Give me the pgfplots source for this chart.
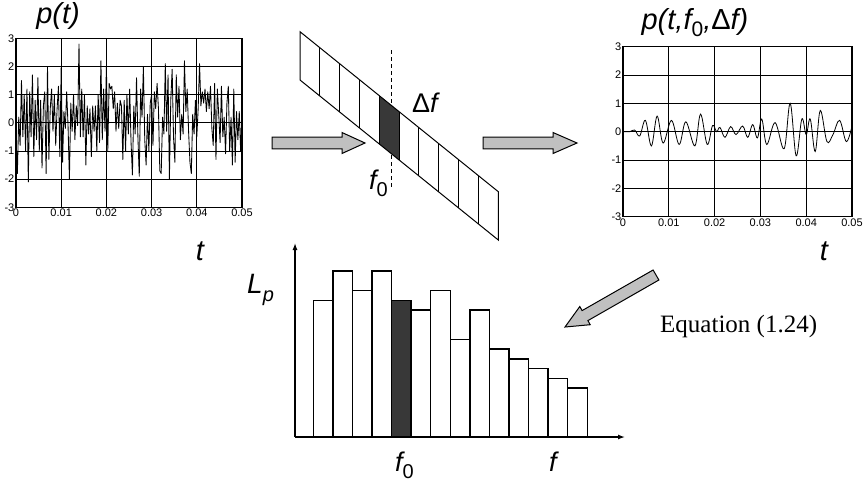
\documentclass[border=0pt]{standalone}
\usepackage{pgfplots}
\pgfplotsset{compat=1.18}
\usepackage{pgfplotstable}
\usepackage{fontspec}
\setmainfont{Liberation Sans}
\newfontfamily\timesfont{Liberation Serif}
\usetikzlibrary{arrows.meta}
\definecolor{arrowgray}{HTML}{C0C0C0}
\definecolor{darkcell}{HTML}{383838}

% broadband pressure signal p(t), 166 samples over 0..0.05 s
\pgfplotstableread{
v
-0.5
-1.8
0.2
-0.8
1.5
-0.5
1.0
-1.0
1.2
-2.1
1.1
-0.5
1.7
-1.2
0.8
-0.6
1.6
-1.0
0.8
-1.6
0.6
1.1
-1.8
2.0
-1.3
0.5
1.2
-0.3
1.0
-0.8
0.5
1.3
-1.2
2.0
-1.4
0.4
-0.2
1.1
-0.1
-2.0
0.7
-0.3
1.0
-0.6
0.6
-0.1
2.8
-0.5
1.2
-0.5
1.0
-1.5
0.6
-0.4
0.5
-1.2
0.6
-0.3
0.6
-1.0
1.0
-0.7
2.2
-0.6
1.2
-0.3
2.0
-1.0
1.4
1.2
1.3
0.5
1.1
-0.3
0.7
-0.2
0.8
0.6
-1.3
0.8
-1.0
1.0
-0.4
1.2
-0.7
-1.85
0.6
-0.4
1.6
-0.5
-1.9
1.2
0.2
2.0
-0.6
-1.5
0.3
-1.0
0.7
1.0
-0.8
1.1
0.5
1.4
0.5
-1.7
-1.8
0.2
-0.4
2.1
-0.3
1.7
-2.0
0.8
1.9
-0.5
-1.4
1.7
0.2
1.3
-0.6
0.3
-0.4
2.2
0.4
1.2
-0.3
-1.4
-1.8
0.3
-0.4
0.8
-0.5
0.5
2.1
0.6
1.1
0.7
1.2
0.4
1.1
0.5
1.3
-0.2
-0.8
1.4
-1.3
1.2
0.3
-0.7
1.3
-0.5
0.2
-1.1
0.7
1.3
-1.0
0.2
-1.5
1.2
-1.4
0.4
-0.6
0.4
-1.0
0.4
}\noisedata

% band-filtered signal p(t,f0,Df): extrema
\pgfplotstableread{
t v
0 0
0.00146 0.0
0.00255 0.06
0.00365 -0.15
0.00489 0.40
0.00620 -0.50
0.00745 0.55
0.00876 -0.40
0.01058 0.40
0.01226 -0.45
0.01372 0.35
0.01569 -0.50
0.01693 0.62
0.01839 -0.45
0.01956 0.22
0.02044 0.0
0.02117 0.15
0.02226 -0.20
0.02350 0.18
0.02467 -0.10
0.02613 0.20
0.02723 -0.20
0.02832 0.25
0.02934 -0.22
0.03029 0.45
0.03139 -0.45
0.03321 0.32
0.03518 -0.60
0.03650 1.00
0.03781 -0.85
0.03905 0.45
0.04000 -0.10
0.04088 0.45
0.04197 -0.70
0.04307 0.75
0.04453 -0.35
0.04584 -0.10
0.04730 0.40
0.04876 -0.35
0.05 0.20
}\banddata

% sound pressure levels of the frequency bands
\pgfplotstableread{
x y
1 14
2 17
3 15
4 17
6 13
7 15
8 10
9 13
10 9
11 8
12 7
13 6
14 5
}\levels
\pgfplotstableread{
x y
5 14
}\levelsel

\newcommand{\tickfont}{\fontsize{11}{12}\selectfont}

\pgfplotsset{
  sigplot/.style={
    scale only axis, anchor=south west,
    xmin=0, xmax=0.05, ymin=-3, ymax=3,
    scaled x ticks=false, scaled y ticks=false,
    xtick={0,0.01,0.02,0.03,0.04,0.05},
    xticklabels={{\tickfont 0},{\tickfont 0.01},{\tickfont 0.02},{\tickfont 0.03},{\tickfont 0.04},{\tickfont 0.05}},
    ytick={-3,-2,-1,0,1,2,3},
    yticklabels={{\tickfont -3},{\tickfont -2},{\tickfont -1},{\tickfont 0},{\tickfont 1},{\tickfont 2},{\tickfont 3}},
    grid=major,
    major grid style={black, line width=0.7pt},
    axis line style={line width=1.4pt},
    major tick length=0pt,
    tick label style={inner sep=1.5pt},
  }
}

\begin{document}
\begin{tikzpicture}
\path[use as bounding box] (0,0) rectangle (864pt,-485pt);

% left signal
\begin{axis}[sigplot, at={(16pt,-207.3pt)}, width=226pt, height=169pt]
\addplot[black, line width=0.85pt, line join=round] table[x expr=\coordindex*0.05/165, y=v] {\noisedata};
\end{axis}

% right signal
\begin{axis}[sigplot, at={(623pt,-216.7pt)}, width=229pt, height=170pt]
\addplot[black, line width=0.8pt, smooth, tension=0.6] table[x=t, y=v] {\banddata};
\end{axis}

% spectrum bars
\begin{axis}[at={(295pt,-437pt)}, anchor=south west, scale only axis,
  width=330pt, height=194pt,
  xmin=-0.435, xmax=16.43, ymin=0, ymax=19.86,
  axis lines=left, ticks=none, clip=false,
  axis line style={line width=1.3pt, -{Latex[length=7pt,width=5pt]}}]
\addplot[ybar, bar width=1, bar shift=0pt, fill=white, draw=black, line width=1.4pt] table[x=x,y=y] {\levels};
\addplot[ybar, bar width=1, bar shift=0pt, fill=darkcell, draw=black, line width=1.4pt] table[x=x,y=y] {\levelsel};
\end{axis}

\begin{scope}[x=1pt, y=-1pt]
% filter bank band
\draw[line width=1pt, dash pattern=on 4pt off 3pt] (391.7,50) -- (391.7,186.7);
\fill[darkcell] (379.3,95.7) -- (399.2,111.7) -- (399.2,160.0) -- (379.3,144.0) -- cycle;
\draw[line width=1pt] (300,31.7) -- (498.3,191.7) -- (498.3,240) -- (300,80) -- cycle;
\foreach \i in {1,...,9} {
  \draw[line width=1pt] ({300+19.83*\i},{31.7+19.83*\i*0.8069}) -- ++(0,48.3);
}
\node[anchor=base west, inner sep=0] at (412,112) {\fontsize{27}{27}\selectfont Δ\itshape f};
\node[anchor=base west, inner sep=0] at (369,189) {\fontsize{27}{27}\selectfont\itshape f\raisebox{-0.26em}{\upshape\fontsize{20}{20}\selectfont 0}};

% gray arrows
\draw[fill=arrowgray, line width=1pt, line join=miter] (272,137.2) -- (342,137.2) -- (342,132.5) -- (365,143) -- (342,153.5) -- (342,148.8) -- (272,148.8) -- cycle;
\draw[fill=arrowgray, line width=1pt, line join=miter] (483,137.2) -- (553,137.2) -- (553,132.5) -- (577,143) -- (553,153.5) -- (553,148.8) -- (483,148.8) -- cycle;
\draw[fill=arrowgray, line width=1pt, line join=miter] (658.9,280) -- (587.9,320.6) -- (590.2,324.7) -- (565,327) -- (579.8,306.5) -- (582.1,310.6) -- (653.1,270) -- cycle;

% titles and labels
\node[anchor=base, inner sep=0] at (58,23.5) {\fontsize{29}{29}\selectfont\itshape p(t)};
\node[anchor=base, inner sep=0] at (200,260) {\fontsize{29}{29}\selectfont\itshape t};
\node[anchor=base, inner sep=0] at (695,29) {\fontsize{29}{29}\selectfont\itshape p(t,f\raisebox{-0.26em}{\upshape\fontsize{21}{21}\selectfont 0},{\upshape Δ}f)};
\node[anchor=base, inner sep=0] at (824,260) {\fontsize{29}{29}\selectfont\itshape t};
\node[anchor=base west, inner sep=0] at (247,293.3) {\fontsize{28}{28}\selectfont\itshape L\raisebox{-0.3em}{\fontsize{20}{20}\selectfont p}};
\node[anchor=base west, inner sep=0] at (395,471.7) {\fontsize{27}{27}\selectfont\itshape f\raisebox{-0.26em}{\upshape\fontsize{20}{20}\selectfont 0}};
\node[anchor=base west, inner sep=0] at (549,471.7) {\fontsize{27}{27}\selectfont\itshape f};
\node[anchor=base west, inner sep=0] at (660,332) {\timesfont\fontsize{25}{25}\selectfont Equation (1.24)};
\end{scope}
\end{tikzpicture}
\end{document}
